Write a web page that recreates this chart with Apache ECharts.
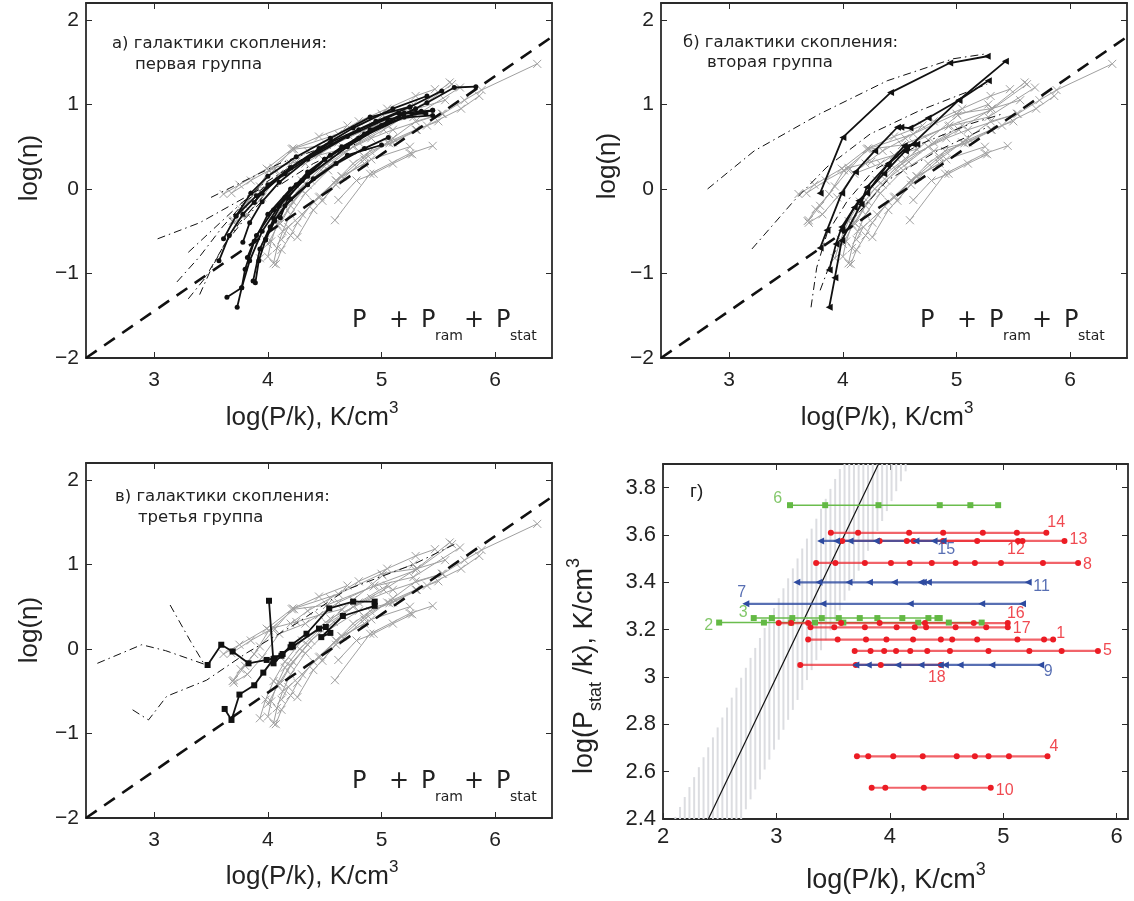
<!DOCTYPE html>
<html><head><meta charset="utf-8">
<script src="https://cdn.jsdelivr.net/npm/echarts@6/dist/echarts.min.js"></script>
<style>html,body{margin:0;padding:0;background:#fff}#c{width:1134px;height:901px}</style>
</head><body><div id="c"></div>
<script>
// ---------------- DATA ----------------
// tick labels
const xTicksABC = [3, 4, 5, 6];
const yTicksABC = [-2, -1, 0, 1, 2];
const xTicksD = [2, 3, 4, 5, 6];
const yTicksD = [2.4, 2.6, 2.8, 3, 3.2, 3.4, 3.6, 3.8];

// gray background tracks (all galaxies) shown in panels а, б, в
const grayTracks = [
  [[3.61,-0.06],[3.75,0.05],[3.99,0.24],[4.21,0.47],[4.62,0.65],[5.00,0.89],[5.31,0.95],[5.60,1.26]],
  [[3.69,-0.38],[3.76,-0.24],[3.88,-0.06],[4.01,0.22],[4.23,0.47],[4.52,0.52],[4.93,0.74],[5.28,0.85],[5.69,1.20]],
  [[3.70,-0.40],[3.82,-0.30],[3.95,-0.10],[4.10,0.18],[4.33,0.30],[4.62,0.55],[4.94,0.75],[5.30,0.93],[5.62,1.24]],
  [[4.05,-0.88],[4.08,-0.70],[4.13,-0.50],[4.20,-0.30],[4.33,-0.05],[4.53,0.22],[4.80,0.45],[5.07,0.54],[5.31,0.70]],
  [[4.07,-0.89],[4.12,-0.72],[4.20,-0.55],[4.26,-0.40],[4.40,-0.15],[4.60,0.10],[4.91,0.35],[5.25,0.50]],
  [[4.00,-0.80],[4.03,-0.62],[4.08,-0.42],[4.15,-0.22],[4.28,0.00],[4.46,0.24],[4.75,0.50],[5.02,0.70],[5.31,0.95],[5.56,1.05]],
  [[3.93,-0.82],[3.98,-0.60],[4.05,-0.38],[4.15,-0.15],[4.30,0.10],[4.55,0.36],[4.91,0.60],[5.10,0.70],[5.53,0.89]],
  [[4.26,-0.57],[4.40,-0.25],[4.60,0.05],[4.85,0.35],[5.10,0.60],[5.30,0.80],[5.54,0.89],[5.73,1.05],[5.88,1.17],[6.37,1.48]],
  [[4.59,-0.37],[4.90,0.18],[5.25,0.42],[5.45,0.51]],
  [[4.62,-0.13],[4.78,0.10],[4.93,0.18],[5.10,0.30],[5.27,0.41]],
  [[4.48,-0.14],[4.65,0.15],[4.85,0.38],[5.05,0.55],[5.30,0.70],[5.50,0.80]],
  [[4.11,-0.41],[4.20,-0.20],[4.35,0.05],[4.52,0.30],[4.75,0.58],[5.01,0.87],[5.28,1.00]],
  [[3.70,-0.37],[3.80,-0.20],[3.93,0.03],[4.05,0.22],[4.22,0.48],[4.45,0.62],[4.70,0.75]],
  [[4.46,-0.09],[4.60,0.10],[4.75,0.30],[4.90,0.45],[5.10,0.55],[5.40,0.75],[5.70,0.95],[5.86,1.10]],
  [[4.00,-0.65],[4.10,-0.40],[4.22,-0.15],[4.38,0.10],[4.58,0.32],[4.80,0.55],[5.05,0.75]],
  [[3.68,-0.05],[3.85,0.10],[4.05,0.25],[4.25,0.32],[4.45,0.40],[4.65,0.47]],
  [[4.12,-0.60],[4.18,-0.45],[4.30,-0.30],[4.45,-0.10],[4.65,0.15],[4.85,0.30]],
  [[4.20,0.30],[4.35,0.45],[4.55,0.60],[4.80,0.80],[5.05,0.95],[5.30,1.10],[5.47,1.18]]
];

// panel а: first group (black, dots)
const groupA = [
  [[3.64,-1.28],[3.77,-1.17],[3.84,-0.85],[3.95,-0.50],[4.10,-0.20],[4.35,0.15],[4.70,0.50],[5.05,0.78],[5.40,1.02],[5.64,1.20],[5.83,1.21]],
  [[3.73,-1.40],[3.77,-1.17],[3.80,-0.95],[3.88,-0.62],[4.00,-0.30],[4.20,0.00],[4.50,0.35],[4.85,0.65],[5.20,0.90],[5.45,0.93]],
  [[3.57,-0.85],[3.66,-0.55],[3.78,-0.30],[3.95,-0.05],[4.20,0.25],[4.55,0.55],[4.95,0.80],[5.25,0.97],[5.53,1.16]],
  [[3.61,-0.59],[3.72,-0.32],[3.90,-0.08],[4.15,0.18],[4.45,0.45],[4.80,0.70],[5.15,0.90],[5.39,0.89]],
  [[3.78,-0.63],[3.84,-0.40],[3.95,-0.15],[4.10,0.08],[4.35,0.35],[4.70,0.62],[5.05,0.83],[5.45,0.87]],
  [[3.89,-1.11],[3.92,-0.85],[3.98,-0.60],[4.06,-0.38],[4.20,-0.12],[4.40,0.12],[4.70,0.40],[5.00,0.52]],
  [[3.87,-1.09],[3.93,-0.71],[4.02,-0.45],[4.15,-0.20],[4.35,0.05],[4.60,0.30],[4.85,0.48],[5.06,0.61]],
  [[3.72,-0.32],[3.85,-0.05],[4.00,0.15],[4.25,0.38],[4.55,0.60],[4.90,0.85],[5.25,0.97]],
  [[3.88,-0.16],[4.00,0.05],[4.20,0.25],[4.45,0.48],[4.75,0.72],[5.10,0.95],[5.40,1.10]],
  [[4.11,-0.34],[4.18,-0.10],[4.30,0.10],[4.50,0.35],[4.80,0.60],[5.20,0.85],[5.45,0.93]],
  [[3.82,-0.81],[3.90,-0.55],[4.05,-0.25],[4.25,0.05],[4.55,0.40],[4.90,0.70],[5.30,0.95]],
  [[3.98,-0.60],[4.05,-0.35],[4.15,-0.10],[4.35,0.20],[4.65,0.50],[5.00,0.75],[5.35,0.92]]
];
const modelA = [
  [[3.03,-0.59],[3.40,-0.40],[3.80,-0.10],[4.20,0.20]],
  [[3.20,-1.10],[3.40,-0.80],[3.60,-0.45],[3.80,-0.15],[4.10,0.15]],
  [[3.30,-1.30],[3.45,-1.05],[3.60,-0.70],[3.75,-0.40],[3.95,-0.10]],
  [[3.40,-1.25],[3.50,-0.95],[3.62,-0.65],[3.80,-0.35],[4.05,0.00],[4.40,0.30],[4.80,0.55]],
  [[3.30,-0.75],[3.50,-0.50],[3.70,-0.25],[3.95,0.05],[4.30,0.35]],
  [[3.50,-0.10],[3.80,0.10],[4.10,0.30],[4.50,0.50]]
];

// panel б: second group (black, triangles)
const groupB = [
  [[3.80,-0.05],[4.00,0.61],[4.42,1.14],[4.94,1.49],[5.27,1.57]],
  [[3.80,-0.70],[3.86,-0.49],[3.99,-0.05],[4.11,0.20],[4.28,0.45],[4.48,0.73],[4.51,0.73],[4.59,0.72],[4.75,0.84],[5.02,1.05],[5.43,1.51]],
  [[3.88,-1.40],[3.93,-1.05],[3.99,-0.61],[4.16,-0.18],[4.21,0.02],[4.40,0.30],[4.54,0.51],[4.65,0.53]],
  [[3.88,-0.96],[3.94,-0.65],[3.99,-0.45],[4.14,-0.14],[4.36,0.18],[4.55,0.45],[5.02,1.05],[5.28,1.28]],
  [[3.99,-0.49],[4.10,-0.22],[4.21,-0.05],[4.39,0.28],[4.56,0.49],[4.62,0.53]]
];
const modelB = [
  [[2.81,0.00],[3.22,0.45],[3.80,0.89],[4.39,1.28],[4.97,1.54],[5.27,1.60]],
  [[3.20,-0.71],[3.57,-0.14],[3.86,0.26],[4.24,0.65],[4.68,0.93],[5.27,1.24]],
  [[3.72,-1.40],[3.77,-0.93],[3.86,-0.53],[4.04,-0.14],[4.27,0.22],[4.68,0.53],[5.12,0.77],[5.41,0.89]],
  [[3.80,-1.20],[3.92,-0.77],[4.10,-0.34],[4.39,0.10],[4.83,0.45],[5.27,0.73]]
];

// panel в: third group (black, squares)
const groupC = [
  [[3.47,-0.19],[3.59,0.05],[3.69,-0.03],[3.83,-0.17],[3.99,-0.13],[4.06,-0.11],[4.13,-0.06],[4.21,0.05],[4.34,0.18],[4.54,0.48],[4.75,0.56],[4.94,0.56]],
  [[3.62,-0.71],[3.68,-0.84],[3.75,-0.54],[3.88,-0.43],[3.96,-0.28],[4.05,-0.12],[4.22,0.03],[4.45,0.24],[4.51,0.26],[4.55,0.19],[4.47,0.14],[4.66,0.39],[4.94,0.51]],
  [[4.01,0.57],[4.05,-0.17],[4.12,-0.08],[4.20,0.02]]
];
const modelC = [
  [[2.50,-0.17],[2.89,0.05],[3.10,-0.02],[3.44,-0.18]],
  [[3.14,0.52],[3.32,0.09],[3.44,-0.18]],
  [[2.81,-0.72],[2.95,-0.84],[3.11,-0.56],[3.46,-0.37],[3.81,-0.05],[4.25,0.30],[4.69,0.70],[5.28,1.00],[5.66,1.25]]
];

// dashed reference line in а, б, в
const refLine = [[2.4,-2.0],[6.5,1.8]];

// panel г: horizontal tracks, log(P_stat/k) level and log(P/k) points
const dNames  = ['6','14','13','12','15','8','11','7','3','2','16','17','1','5','18','9','4','10'];
const dKinds  = ['g','r','r','r','b','r','b','b','g','g','r','r','r','r','r','b','r','r'];
const dLevels = [3.726,3.609,3.575,3.575,3.575,3.482,3.40,3.309,3.249,3.23,3.228,3.21,3.158,3.11,3.051,3.051,2.665,2.532];
const dPoints = [
  [3.12,3.43,3.90,4.44,4.71,4.955],
  [3.48,3.72,4.17,4.47,4.82,5.12,5.38],
  [3.58,3.91,4.15,5.17,5.54],
  [4.21,4.47,4.77,5.13],
  [3.39,3.53,3.65,3.88,4.23,4.39,4.47],
  [3.35,3.52,3.78,4.01,4.175,4.37,4.58,4.75,4.98,5.35,5.66],
  [3.18,3.375,3.64,3.82,4.04,4.275,4.295,4.34,5.22],
  [2.73,3.41,4.18,4.81,5.17],
  [2.80,2.96,3.14,3.40,3.55,3.735,3.89,4.11,4.34,4.42,4.44],
  [2.495,2.89,3.13,3.34,3.59,4.25,4.52,4.81],
  [3.02,3.13,3.28,3.57,3.91,4.31,4.74,5.04],
  [3.30,3.51,3.78,4.06,4.22,4.32,4.58,4.85,5.04],
  [3.28,3.54,3.79,3.97,4.205,4.45,4.55,4.77,5.125,5.36,5.44],
  [3.69,3.83,3.95,4.055,4.18,4.33,4.53,4.87,5.23,5.515,5.835],
  [3.21,3.70,3.92,4.45],
  [3.70,3.81,4.07,4.275,4.445,4.49,4.62,4.90,5.33],
  [3.71,3.81,4.03,4.29,4.59,4.75,4.87,5.05,5.39],
  [3.84,3.96,4.30,4.89]
];
// equality line and shaded band in г
const diagD = [[2.4,2.4],[3.9,3.9]];
const bandLeft = [[2.10,2.4],[3.58,3.9]];
const bandRight = [[2.69,2.4],[4.17,3.9]];

// ---------------- LAYOUT / STYLE ----------------
const grids = [
  {left:86, top:3, width:466, height:355},
  {left:661, top:3, width:466, height:355},
  {left:86, top:463, width:466, height:355},
  {left:663, top:464, width:465, height:355}
];
const ranges = [
  {x:[2.4,6.5], y:[-2,2.2], xt:xTicksABC, yt:yTicksABC},
  {x:[2.4,6.5], y:[-2,2.2], xt:xTicksABC, yt:yTicksABC},
  {x:[2.4,6.5], y:[-2,2.2], xt:xTicksABC, yt:yTicksABC},
  {x:[2,6.1], y:[2.4,3.9], xt:xTicksD, yt:yTicksD}
];
const fmt = v => (v < 0 ? '\u2212' + Math.abs(v) : String(v));
const AX = '#2a2a2a';
const FF = 'Liberation Sans, Arial, sans-serif';

const xAxes = [], yAxes = [];
function mkAxis(p, isX, pos, labels) {
  const r = ranges[p];
  const ticks = isX ? r.xt : r.yt;
  const fs = p === 3 ? 22 : 21;
  return {
    type:'value', gridIndex:p, min:(isX?r.x:r.y)[0], max:(isX?r.x:r.y)[1], position:pos,
    axisLine:{show:true, onZero:false, lineStyle:{color:AX, width:1.8}},
    axisTick:{show:true, inside:true, length:6, customValues:ticks, lineStyle:{color:AX, width:1}},
    axisLabel:{show:labels, customValues:ticks, formatter:fmt, fontSize:fs, fontFamily:FF, color:'#222',
      margin: isX ? (p===3 ? 7 : 12) : 7},
    splitLine:{show:false}
  };
}
for (let p = 0; p < 4; p++) { xAxes.push(mkAxis(p, true, 'bottom', true)); yAxes.push(mkAxis(p, false, 'left', true)); }
for (let p = 0; p < 4; p++) { xAxes.push(mkAxis(p, true, 'top', false)); yAxes.push(mkAxis(p, false, 'right', false)); }

const series = [];
function line(p, data, o) {
  series.push(Object.assign({
    type:'line', xAxisIndex:p, yAxisIndex:p, data, animation:false, silent:true,
    showSymbol:true, clip:true
  }, o));
}
const XPATH = 'path://M0,0L10,10M10,0L0,10';
for (let p = 0; p < 3; p++) {
  grayTracks.forEach(t => line(p, t, {
    symbol:XPATH, symbolSize:8, z:2,
    lineStyle:{color:'#a0a0a0', width:1},
    itemStyle:{color:'#a0a0a0', borderColor:'#a0a0a0', borderWidth:1}
  }));
}
const models = [modelA, modelB, modelC];
const groups = [groupA, groupB, groupC];
const syms = [
  {symbol:'circle', symbolSize:5, symbolRotate:0},
  {symbol:'triangle', symbolSize:7, symbolRotate:90},
  {symbol:'rect', symbolSize:6, symbolRotate:0}
];
for (let p = 0; p < 3; p++) {
  models[p].forEach(t => line(p, t, {symbol:'none', z:3, lineStyle:{color:'#111', width:1, type:[8,4,1.5,4]}}));
  groups[p].forEach(t => line(p, t, Object.assign({z:4,
    lineStyle:{color:'#111', width:1.8}, itemStyle:{color:'#111'}}, syms[p])));
  line(p, refLine, {symbol:'none', z:5, lineStyle:{color:'#111', width:2.6, type:[13,9]}});
}

// panel г
const dCol = {r:'#ec1c24', b:'#2e4ba0', g:'#63b944'};
const dLineCol = {r:'rgba(236,40,48,0.72)', b:'rgba(46,75,160,0.8)', g:'rgba(99,185,68,0.95)'};
const dSym = {
  r:{symbol:'circle', symbolSize:6, symbolRotate:0},
  b:{symbol:'triangle', symbolSize:7, symbolRotate:90},
  g:{symbol:'rect', symbolSize:6, symbolRotate:0}
};
series.push({
  type:'custom', xAxisIndex:3, yAxisIndex:3, data:[[0]], silent:true, z:1, animation:false,
  renderItem:function(params, api){
    const yb = bandLeft[0][1], yt = bandLeft[1][1];
    const a = api.coord([bandLeft[0][0], yb]);
    const b = api.coord([bandRight[1][0], yt]);
    const ppu = (api.coord([3, yb])[0] - api.coord([2, yb])[0]);
    const children = [];
    for (let px = a[0] + 1; px <= b[0]; px += 4.7) {
      const x = bandLeft[0][0] + (px - a[0]) / ppu;
      let top = yb + (x - bandLeft[0][0]) / (bandLeft[1][0] - bandLeft[0][0]) * (yt - yb);
      let bot = yb + (x - bandRight[0][0]) / (bandRight[1][0] - bandRight[0][0]) * (yt - yb);
      top = Math.min(top, yt); bot = Math.max(bot, yb);
      if (top <= bot) continue;
      children.push({type:'line', shape:{x1:px, y1:api.coord([x, bot])[1], x2:px, y2:api.coord([x, top])[1]},
        style:{stroke:'#dcdde1', lineWidth:2}});
    }
    return {type:'group', children};
  }
});
line(3, diagD, {symbol:'none', z:3, lineStyle:{color:'#111', width:1.2}});
// label placement style: [anchor, position, offset]
const dLab = {
  '1':['last','right',[-2,-6]], '2':['first','left',[-1,3]], '3':['first','left',[-1,-5]],
  '4':['last','right',[-3,-10]], '5':['last','right',[0,0]], '6':['first','left',[-3,-7]],
  '7':['first','top',[-4,2]], '8':['last','right',[0,2]], '9':['last','right',[-2,7]],
  '10':['last','right',[0,3]], '11':['last','right',[0,4]], '12':['last','bottom',[-2,-4]],
  '13':['last','right',[0,-1]], '14':['last','right',[-4,-10]], '15':['last','bottom',[3,-4]],
  '16':['last','top',[8,4]], '17':['last','right',[0,1]], '18':['last','bottom',[-4,0]]
};
const order = [16,12,0,8,9,1,2,3,5,10,11,13,14,15,17,4,6,7];
order.forEach(i => {
  const k = dKinds[i];
  line(3, dPoints[i].map(x => [x, dLevels[i]]), Object.assign({z:4,
    lineStyle:{color:dLineCol[k], width:k==='g'?1.5:2.2}, itemStyle:{color:dCol[k]}}, dSym[k]));
});
const labData = dNames.map((n, i) => {
  const L = dLab[n];
  const x = L[0] === 'first' ? dPoints[i][0] : dPoints[i][dPoints[i].length - 1];
  return {value:[x, dLevels[i]], label:{show:true, formatter:n, position:L[1], offset:L[2], distance:5,
    color:dCol[dKinds[i]], fontSize:16, fontFamily:FF}};
});
series.push({type:'scatter', xAxisIndex:3, yAxisIndex:3, data:labData, symbolSize:0, silent:true, z:6, animation:false});

// ---------------- TEXT ----------------
const graphic = [];
function T(x, y, text, size, o) {
  o = o || {};
  graphic.push({type:'text', x, y, rotation:o.rot || 0, z:100, silent:true,
    style:{text, fontSize:size, fontFamily:o.ff || FF, fill:o.fill || '#222',
      align:o.align || 'left', verticalAlign:'middle', rich:o.rich}});
}
const LBL = 'DejaVu Sans, Verdana, sans-serif';
T(112, 44, 'а) галактики скопления:', 16.5, {ff:LBL});
T(135, 65, 'первая группа', 16.5, {ff:LBL});
T(683, 43, 'б) галактики скопления:', 16.5, {ff:LBL});
T(707, 63, 'вторая группа', 16.5, {ff:LBL});
T(115, 497, 'в) галактики скопления:', 16.5, {ff:LBL});
T(138, 518, 'третья группа', 16.5, {ff:LBL});
T(690, 492, 'г)', 19, {});

const pRich = {
  a:{fontSize:24, fontFamily:LBL, fill:'#222', lineHeight:44, width:37},
  b:{fontSize:24, fontFamily:LBL, fill:'#222', lineHeight:44, width:32},
  q:{fontSize:24, fontFamily:LBL, fill:'#222', lineHeight:44, width:14},
  s:{fontSize:14, fontFamily:LBL, fill:'#222', lineHeight:14, verticalAlign:'bottom', width:29}
};
const pText = '{a|P}{b|+}{q|P}{s|ram}{b|+}{q|P}{s|stat}';
[[352,321],[920,321],[352,782]].forEach(([x,y]) => T(x, y, pText, 24, {rich:pRich}));

const titleRich = {
  m:{fontSize:26, fontFamily:FF, fill:'#222', lineHeight:36},
  u:{fontSize:17, fontFamily:FF, fill:'#222', lineHeight:17, verticalAlign:'top'}
};
T(312, 418, '{m|log(P/k), K/cm}{u|3}', 26, {align:'center', rich:titleRich});
T(887, 418, '{m|log(P/k), K/cm}{u|3}', 26, {align:'center', rich:titleRich});
T(312, 877, '{m|log(P/k), K/cm}{u|3}', 26, {align:'center', rich:titleRich});
const titleRichD = {
  m:{fontSize:27, fontFamily:FF, fill:'#222', lineHeight:40},
  u:{fontSize:18, fontFamily:FF, fill:'#222', lineHeight:18, verticalAlign:'top'},
  s:{fontSize:18, fontFamily:FF, fill:'#222', lineHeight:18, verticalAlign:'bottom'}
};
T(896, 881, '{m|log(P/k), K/cm}{u|3}', 27, {align:'center', rich:titleRichD});
T(30, 168, 'log(η)', 26, {align:'center', rot:Math.PI/2});
T(608, 166, 'log(η)', 26, {align:'center', rot:Math.PI/2});
T(30, 630, 'log(η)', 26, {align:'center', rot:Math.PI/2});
T(585, 666, '{m|log(P}{s|stat}{m| /k), K/cm}{u|3}', 27, {align:'center', rot:Math.PI/2, rich:titleRichD});

const chart = echarts.init(document.getElementById('c'), null, {renderer:'canvas'});
chart.setOption({
  animation:false,
  backgroundColor:'#ffffff',
  grid:grids.map(g => Object.assign({containLabel:false}, g)),
  xAxis:xAxes, yAxis:yAxes, series, graphic
});
</script></body></html>
